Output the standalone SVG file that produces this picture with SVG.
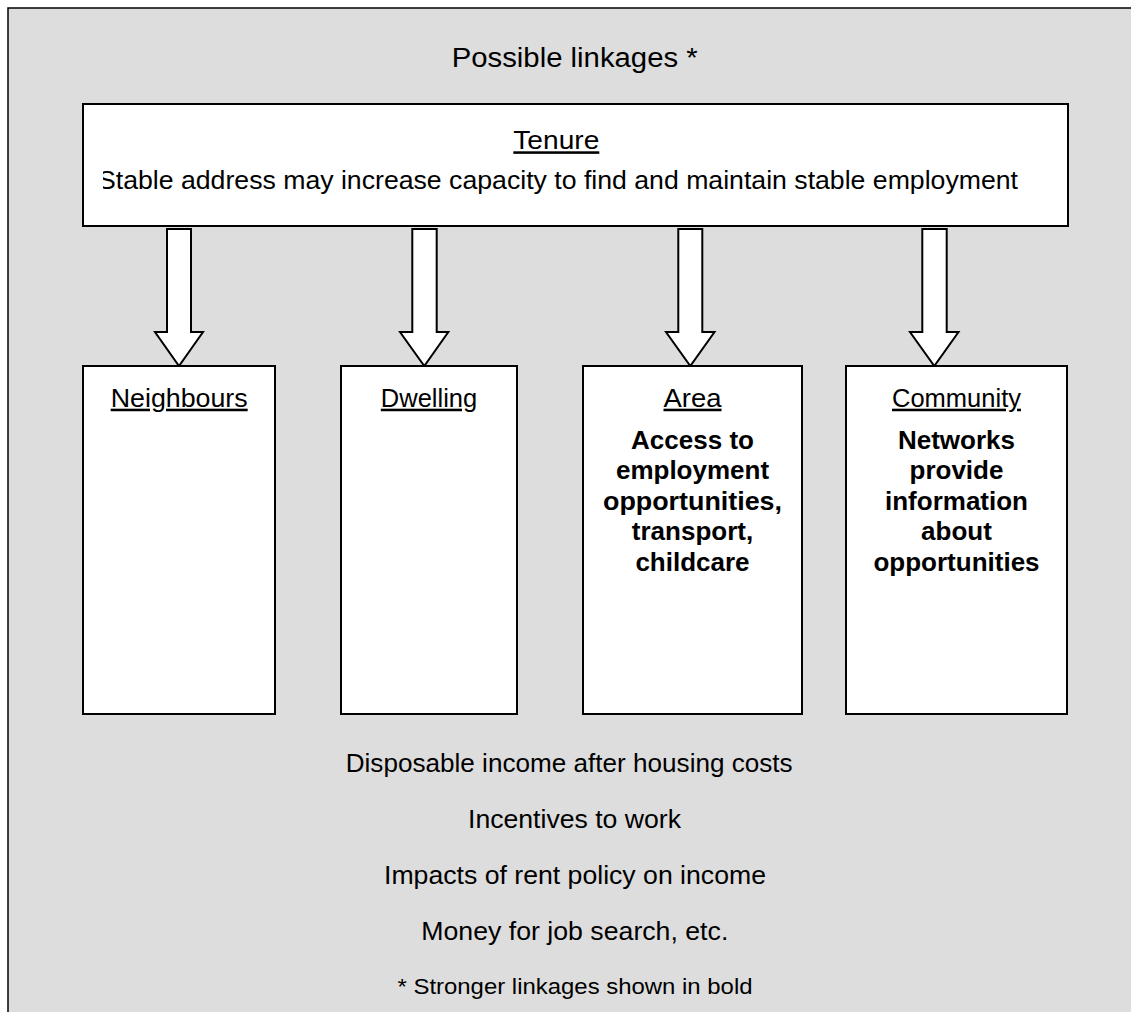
<svg xmlns="http://www.w3.org/2000/svg" width="1131" height="1012" viewBox="0 0 1131 1012">
<style>
  .box { fill: #ffffff; stroke: #000000; stroke-width: 2; }
  .arrow { fill: #ffffff; stroke: #000000; stroke-width: 2; stroke-linejoin: miter; }
  text { font-family: "Liberation Sans", Arial, sans-serif; fill: #000000; }
  .t { font-size: 25.5px; text-anchor: middle; }
  .u { text-decoration: underline; }
  .b { font-size: 26px; font-weight: bold; text-anchor: middle; }
</style>
<defs>
  <clipPath id="tenureClip"><rect x="103" y="105" width="964" height="120"/></clipPath>
</defs>
<rect x="8" y="8" width="1140" height="1020" fill="#dddddd" stroke="#000000" stroke-width="1.5"/>
<text id="title" x="574.7" y="66.7" font-size="27" text-anchor="middle" textLength="246" lengthAdjust="spacingAndGlyphs">Possible linkages *</text>

<g id="tenure">
  <rect class="box" x="83" y="104" width="985" height="122"/>
  <text class="t u" x="556.3" y="149.3" textLength="86" lengthAdjust="spacingAndGlyphs">Tenure</text>
  <g clip-path="url(#tenureClip)">
    <text x="98" y="189" font-size="26.5" textLength="920" lengthAdjust="spacingAndGlyphs">Stable address may increase capacity to find and maintain stable employment</text>
  </g>
</g>

<g id="connectors">
  <polygon class="arrow" points="167,229 191,229 191,332 203,332 179,366 155,332 167,332"/>
  <polygon class="arrow" points="412.3,229 436.7,229 436.7,332 448.3,332 424.3,366 400,332 412.3,332"/>
  <polygon class="arrow" points="678.3,229 702.3,229 702.3,332 714.5,332 690.3,366 666,332 678.3,332"/>
  <polygon class="arrow" points="922.3,229 946.7,229 946.7,332 958.5,332 934.3,366 910,332 922.3,332"/>
</g>

<g id="neighbours">
  <rect class="box" x="83" y="366" width="192" height="348"/>
  <text class="t u" x="179.2" y="406.7" textLength="137" lengthAdjust="spacingAndGlyphs">Neighbours</text>
</g>

<g id="dwelling">
  <rect class="box" x="341" y="366" width="176" height="348"/>
  <text class="t u" x="429" y="406.7">Dwelling</text>
</g>

<g id="area">
  <rect class="box" x="583" y="366" width="219" height="348"/>
  <text class="t u" x="692.5" y="406.7" textLength="58" lengthAdjust="spacingAndGlyphs">Area</text>
  <text class="b" x="692.5" y="449">Access to</text>
  <text class="b" x="692.5" y="479.4">employment</text>
  <text class="b" x="692.5" y="509.8" textLength="179" lengthAdjust="spacingAndGlyphs">opportunities,</text>
  <text class="b" x="692.5" y="540.2">transport,</text>
  <text class="b" x="692.5" y="570.6">childcare</text>
</g>

<g id="community">
  <rect class="box" x="846" y="366" width="221" height="348"/>
  <text class="t u" x="956.5" y="406.7">Community</text>
  <text class="b" x="956.5" y="449">Networks</text>
  <text class="b" x="956.5" y="479.4">provide</text>
  <text class="b" x="956.5" y="509.8">information</text>
  <text class="b" x="956.5" y="540.2">about</text>
  <text class="b" x="956.5" y="570.6">opportunities</text>
</g>

<g id="notes">
  <text class="t" x="569.2" y="771.7" textLength="447" lengthAdjust="spacingAndGlyphs">Disposable income after housing costs</text>
  <text class="t" x="574.5" y="827.7" textLength="213" lengthAdjust="spacingAndGlyphs">Incentives to work</text>
  <text class="t" x="575" y="884" textLength="382" lengthAdjust="spacingAndGlyphs">Impacts of rent policy on income</text>
  <text class="t" x="574.8" y="940" textLength="307" lengthAdjust="spacingAndGlyphs">Money for job search, etc.</text>
  <text x="575" y="994.3" font-size="22" text-anchor="middle" textLength="355" lengthAdjust="spacingAndGlyphs">* Stronger linkages shown in bold</text>
</g>
</svg>
